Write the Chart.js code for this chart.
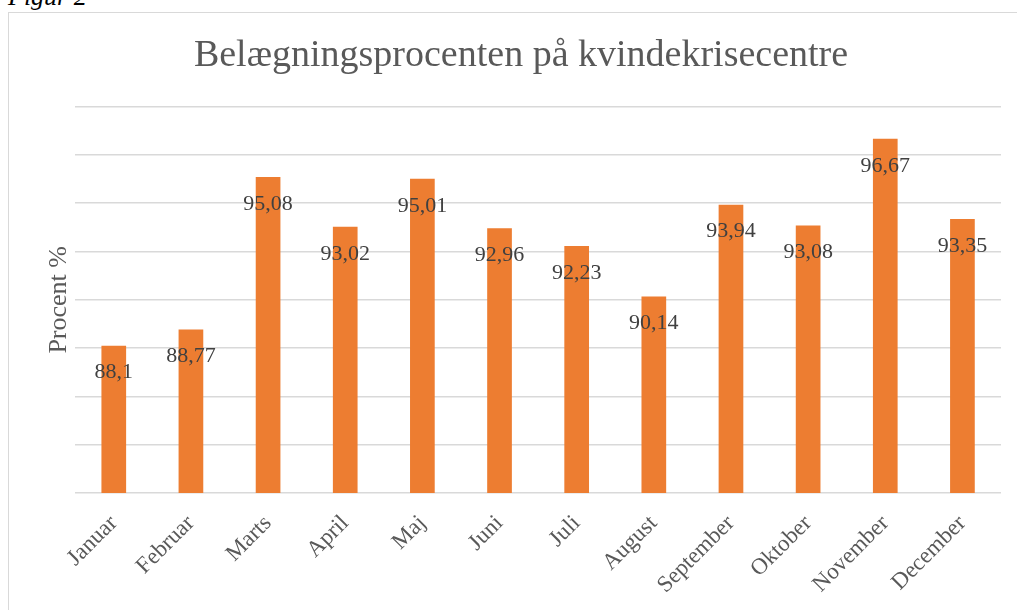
<!DOCTYPE html>
<html>
<head>
<meta charset="utf-8">
<script src="https://cdn.jsdelivr.net/npm/chart.js@4.4.1/dist/chart.umd.min.js"></script>
<style>
    html, body { margin: 0; padding: 0; background: #fff; overflow: hidden; }
    #page { position: relative; width: 1017px; height: 610px; }
    #figur {
        position: absolute; left: 8px; top: -16px;
        font: italic 26px 'Liberation Serif', serif; line-height: 26px; color: #000;
    }
    #frame {
        position: absolute; left: 8px; top: 12px; width: 1030px; height: 620px;
        border: 1.5px solid #d9d9d9; box-sizing: border-box;
    }
    #chart-wrap { position: absolute; left: 0; top: 0; width: 1017px; height: 610px; }
</style>
</head>
<body>
<div id="page">
    <div id="figur">Figur 2</div>
    <div id="frame"></div>
    <div id="chart-wrap"><canvas id="occupancy-chart"></canvas></div>
</div>
<script>
// Data
const months = ['Januar', 'Februar', 'Marts', 'April', 'Maj', 'Juni',
    'Juli', 'August', 'September', 'Oktober', 'November', 'December'];
const occupancy = [88.1, 88.77, 95.08, 93.02, 95.01, 92.96, 92.23, 90.14, 93.94, 93.08, 96.67, 93.35];
const yMin = 82;
const yMax = 98;
const yStep = 2;

const serif = "'Liberation Serif', 'Times New Roman', serif";

// Small inline plugin for the "inside end" value labels
const valueLabels = {
    id: 'valueLabels',
    afterDatasetsDraw(chart) {
        const ctx = chart.ctx;
        const meta = chart.getDatasetMeta(0);
        ctx.save();
        ctx.font = '22px ' + serif;
        ctx.fillStyle = '#404040';
        ctx.textAlign = 'center';
        ctx.textBaseline = 'middle';
        meta.data.forEach((bar, i) => {
            const txt = String(occupancy[i]).replace('.', ',');
            ctx.fillText(txt, bar.x, bar.y + 27);
        });
        ctx.restore();
    }
};

const ctx = document.getElementById('occupancy-chart').getContext('2d');
new Chart(ctx, {
    type: 'bar',
    data: {
        labels: months,
        datasets: [{
            data: occupancy,
            backgroundColor: '#ED7D31',
            borderWidth: 0,
            barPercentage: 0.64,
            categoryPercentage: 0.5
        }]
    },
    options: {
        responsive: true,
        maintainAspectRatio: false,
        animation: false,
        layout: { padding: { left: 41, right: 16, top: 0, bottom: 0 } },
        plugins: {
            legend: { display: false },
            tooltip: { enabled: false },
            title: {
                display: true,
                text: 'Belægningsprocenten på kvindekrisecentre',
                color: '#595959',
                font: { family: serif, size: 38, weight: 'normal' },
                padding: { top: 33, bottom: 28 }
            }
        },
        scales: {
            x: {
                grid: { display: false },
                border: { display: false },
                afterFit(scale) { scale.height = 117; },
                ticks: {
                    color: '#595959',
                    font: { family: serif, size: 23 },
                    minRotation: 45,
                    maxRotation: 45,
                    padding: 9
                }
            },
            y: {
                min: yMin,
                max: yMax,
                ticks: { display: false, stepSize: yStep },
                grid: { color: '#d9d9d9', lineWidth: 1.5, drawTicks: false },
                border: { display: false },
                title: {
                    display: true,
                    text: 'Procent %',
                    color: '#595959',
                    font: { family: serif, size: 26 },
                    padding: { top: 3, bottom: 0 }
                }
            }
        }
    },
    plugins: [valueLabels]
});
</script>
</body>
</html>
